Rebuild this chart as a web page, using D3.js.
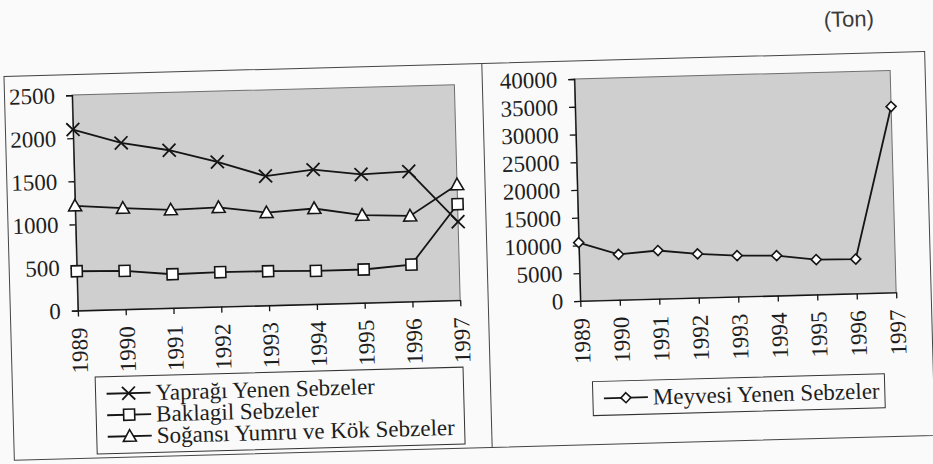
<!DOCTYPE html>
<html>
<head>
<meta charset="utf-8">
<script src="https://cdn.jsdelivr.net/npm/d3@7"></script>
<style>
  body { margin: 0; background: #fafafa; }
  svg { display: block; }
</style>
</head>
<body>
<svg id="chart" width="933" height="464"></svg>
<script>
// years on the x axis
const years = ['1989', '1990', '1991', '1992', '1993', '1994', '1995', '1996', '1997']

// left panel series (ton)
const yaprak = [2100, 1930, 1830, 1680, 1500, 1560, 1490, 1510, 910]
const baklagil = [456, 445, 391, 400, 396, 385, 386, 428, 1114]
const sogan = [1215, 1173, 1139, 1151, 1077, 1109, 1016, 993, 1340]

// right panel series (ton)
const meyve = [10500, 8200, 8700, 7900, 7400, 7200, 6300, 6200, 33500]

const leftTicks = [0, 500, 1000, 1500, 2000, 2500]
const rightTicks = [0, 5000, 10000, 15000, 20000, 25000, 30000, 35000, 40000]

const leftSeries = [
  { name: 'Yaprağı Yenen Sebzeler', values: yaprak, marker: 'x' },
  { name: 'Baklagil Sebzeler', values: baklagil, marker: 'square' },
  { name: 'Soğansı Yumru ve Kök Sebzeler', values: sogan, marker: 'triangle' }
]
const rightSeries = [
  { name: 'Meyvesi Yenen Sebzeler', values: meyve, marker: 'diamond' }
]

const serif = '"Liberation Serif"'
const ink = '#151515'
const svg = d3.select('#chart')
// the scanned page is slightly tilted
const page = svg.append('g').attr('transform', 'rotate(-1.55, 466, 256)')

page.append('text')
  .attr('x', 855).attr('y', 37)
  .attr('text-anchor', 'middle')
  .style('font-family', '"Liberation Sans"')
  .style('font-size', '22px')
  .style('fill', '#3a3a3a')
  .text('(Ton)')

// outer frame and divider
page.append('rect')
  .attr('x', 9).attr('y', 64).attr('width', 921).attr('height', 384)
  .attr('fill', 'none').attr('stroke', '#444').attr('stroke-width', 1)
page.append('line')
  .attr('x1', 487).attr('x2', 487).attr('y1', 64).attr('y2', 448)
  .attr('stroke', '#444').attr('stroke-width', 1)

const drawMarker = (g, type, x, y) => {
  if (type === 'x') {
    g.append('path')
      .attr('d', `M${x - 6.5},${y - 6.5}L${x + 6.5},${y + 6.5}M${x - 6.5},${y + 6.5}L${x + 6.5},${y - 6.5}`)
      .attr('stroke', ink).attr('stroke-width', 1.8).attr('fill', 'none')
  } else if (type === 'square') {
    g.append('rect')
      .attr('x', x - 5.5).attr('y', y - 5.5).attr('width', 11).attr('height', 11)
      .attr('fill', '#fff').attr('stroke', ink).attr('stroke-width', 1.6)
  } else if (type === 'triangle') {
    g.append('path')
      .attr('d', `M${x},${y - 6.5}L${x + 6.5},${y + 5}L${x - 6.5},${y + 5}Z`)
      .attr('fill', '#fff').attr('stroke', ink).attr('stroke-width', 1.6)
  } else {
    g.append('path')
      .attr('d', `M${x},${y - 5}L${x + 5},${y}L${x},${y + 5}L${x - 5},${y}Z`)
      .attr('fill', '#fff').attr('stroke', ink).attr('stroke-width', 1.6)
  }
}

/**
 * Draws one line panel with its axes and legend.
 */
const drawPanel = (box, ticks, series, legendBox) => {
  const x = d3.scalePoint().domain(years).range([box.x0, box.x1]).padding(0)
  const y = d3.scaleLinear().domain([0, ticks[ticks.length - 1]]).range([box.y1, box.y0])

  page.append('rect')
    .attr('x', box.x0).attr('y', box.y0)
    .attr('width', box.x1 - box.x0).attr('height', box.y1 - box.y0)
    .attr('fill', '#cfcfcf').attr('stroke', '#6e6e6e').attr('stroke-width', 1)

  const yAxis = page.append('g')
    .attr('transform', `translate(${box.x0},0)`)
    .call(d3.axisLeft(y).tickValues(ticks).tickSize(6).tickPadding(11).tickFormat(d3.format('d')))
  yAxis.attr('font-family', null).attr('font-size', null)
  yAxis.select('.domain').attr('stroke', ink).attr('stroke-width', 1.3)
  yAxis.selectAll('line').attr('stroke', ink).attr('stroke-width', 1.3)
  yAxis.selectAll('text').style('font-size', '23px').style('font-family', serif).attr('fill', '#1e1e1e')

  const xAxis = page.append('g')
    .attr('transform', `translate(0,${box.y1})`)
    .call(d3.axisBottom(x).tickSize(6).tickSizeOuter(0))
  xAxis.attr('font-family', null).attr('font-size', null)
  xAxis.select('.domain').attr('stroke', ink).attr('stroke-width', 1.3)
  xAxis.selectAll('line').attr('stroke', ink).attr('stroke-width', 1.3)
  xAxis.selectAll('text')
    .style('font-size', '23px').style('font-family', serif).attr('fill', '#1e1e1e')
    .attr('transform', 'rotate(-90)')
    .attr('text-anchor', 'end')
    .attr('x', -17).attr('y', 0).attr('dy', '0.35em')

  const line = d3.line().x((d, i) => x(years[i])).y(d => y(d))
  series.forEach(s => {
    page.append('path')
      .attr('d', line(s.values))
      .attr('fill', 'none').attr('stroke', ink).attr('stroke-width', 1.8)
    const mg = page.append('g')
    s.values.forEach((v, i) => drawMarker(mg, s.marker, x(years[i]), y(v)))
  })

  page.append('rect')
    .attr('x', legendBox.x).attr('y', legendBox.y)
    .attr('width', legendBox.w).attr('height', legendBox.h)
    .attr('fill', '#fafafa').attr('stroke', '#333').attr('stroke-width', 1)
  series.forEach((s, i) => {
    const cy = legendBox.y + legendBox.pad + i * legendBox.row
    const lx = legendBox.x + 11
    page.append('line')
      .attr('x1', lx).attr('x2', lx + 44).attr('y1', cy).attr('y2', cy)
      .attr('stroke', ink).attr('stroke-width', 1.8)
    drawMarker(page, s.marker, lx + 22, cy)
    page.append('text')
      .attr('x', lx + 49).attr('y', cy).attr('dy', '0.33em')
      .style('font-family', serif)
      .style('font-size', '23px')
      .style('fill', '#1e1e1e')
      .text(s.name)
  })
}

drawPanel({ x0: 76.5, x1: 459, y0: 84.5, y1: 300 }, leftTicks, leftSeries,
  { x: 92, y: 367, w: 368, h: 77, pad: 17, row: 21.5 })
drawPanel({ x0: 579, x1: 895, y0: 82, y1: 304 }, rightTicks, rightSeries,
  { x: 589, y: 385, w: 292, h: 34, pad: 17, row: 21.5 })
</script>
</body>
</html>
